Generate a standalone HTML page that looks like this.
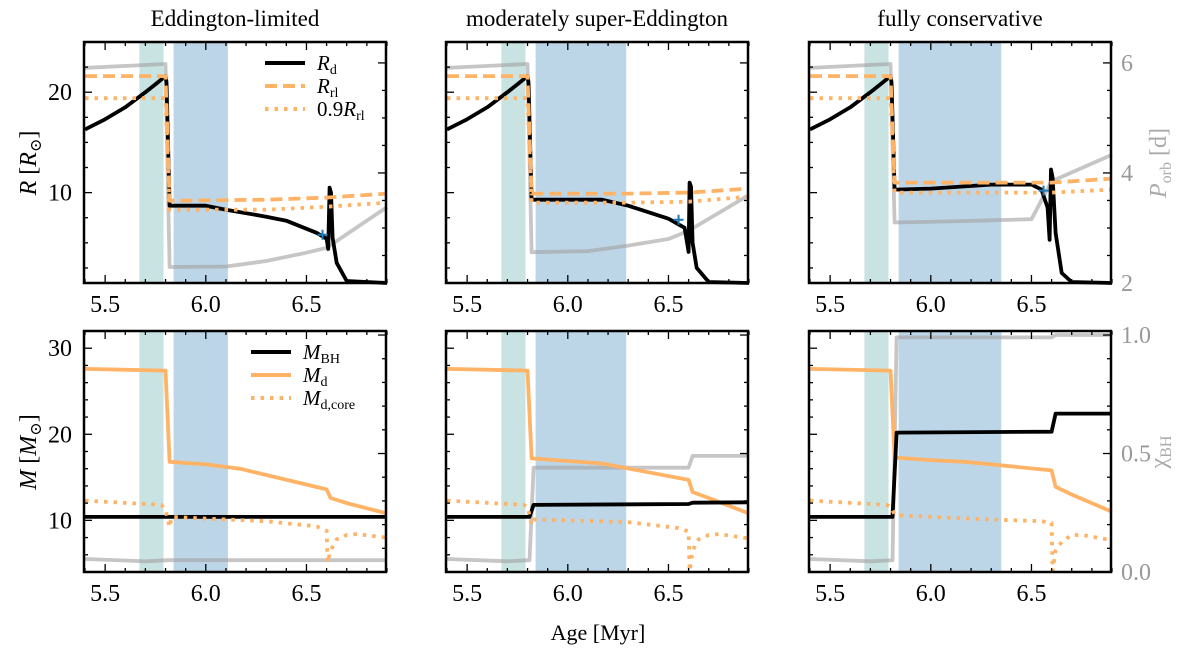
<!DOCTYPE html>
<html><head><meta charset="utf-8">
<style>
body{margin:0;background:#fff;}
svg{display:block;font-family:"Liberation Serif","DejaVu Serif",serif;}
</style></head>
<body>
<svg id="fig" width="1200" height="651" viewBox="0 0 1200 651"></svg>
<script>
// ---------- data ----------
const xTicks=[5.5,6.0,6.5];
const xTickLabels=["5.5","6.0","6.5"];
const titles=["Eddington-limited","moderately super-Eddington","fully conservative"];
const tealBand=[5.67,5.79];
const blueBandEnd=[6.11,6.29,6.35];
const blueBandStart=5.84;
// top row: R (Rsun), Porb (d)
const p1RdAge=[5.4,5.5,5.6,5.7,5.75,5.8,5.805,5.82,6.0,6.1,6.3,6.4,6.55,6.6,6.608,6.615,6.622,6.63,6.65,6.7,6.9];
const p1Rd=[16.3,17.3,18.5,20.0,20.8,21.6,21.0,8.7,8.7,8.3,7.6,7.2,6.0,5.4,4.4,10.5,10.0,5.5,3.0,1.2,1.0];
const p2RdAge=[5.4,5.5,5.6,5.7,5.75,5.8,5.805,5.82,6.17,6.3,6.5,6.58,6.6,6.605,6.612,6.62,6.64,6.7,6.9];
const p2Rd=[16.3,17.3,18.5,20.0,20.8,21.6,21.0,9.3,9.3,8.7,7.4,6.5,4.1,11.0,10.6,5.0,2.5,1.1,1.0];
const p3RdAge=[5.4,5.5,5.6,5.7,5.75,5.8,5.805,5.82,6.0,6.3,6.5,6.55,6.58,6.59,6.597,6.605,6.62,6.65,6.7,6.9];
const p3Rd=[16.3,17.3,18.5,20.0,20.8,21.6,21.0,10.3,10.4,10.8,10.8,10.3,8.5,5.3,12.3,11.5,6.0,2.0,1.1,1.0];
const rrlAge=[5.4,5.8,5.82,6.3,6.6,6.9];
const p1Rrl=[21.6,21.6,9.2,9.3,9.5,9.9];
const p2Rrl=[21.6,21.6,9.9,9.9,10.0,10.4];
const p3Rrl=[21.6,21.6,11.0,11.0,11.0,11.4];
const p1Rrl09=[19.4,19.4,8.3,8.3,8.6,9.0];
const p2Rrl09=[19.4,19.4,9.0,9.0,9.1,9.6];
const p3Rrl09=[19.4,19.4,10.0,10.0,10.0,10.3];
const porbAge=[5.4,5.8,5.82,6.1,6.3,6.5,6.6,6.9];
const p1Porb=[5.91,5.98,2.29,2.30,2.40,2.55,2.64,3.38];
const p2Porb=[5.91,5.98,2.56,2.58,2.68,2.80,2.95,3.60];
const p3Porb=[5.91,5.98,3.10,3.12,3.14,3.16,3.85,4.33];
const markerAge=[6.58,6.55,6.56];
const markerR=[5.8,7.3,10.2];
// bottom row: M (Msun), chi
const mdAge=[5.4,5.8,5.82,6.0,6.17,6.6,6.62,6.7,6.9];
const p1Md=[27.6,27.4,16.8,16.5,16.0,13.6,12.6,12.0,10.8];
const p2Md=[27.6,27.4,17.2,16.9,16.6,14.7,13.3,12.6,10.8];
const p3Md=[27.6,27.4,17.3,17.0,16.8,15.8,13.9,13.0,11.0];
const bhAge=[5.4,5.81,5.83,6.6,6.62,6.9];
const p1Bh=[10.4,10.4,10.4,10.4,10.4,10.4];
const p2Bh=[10.4,10.4,11.8,11.9,12.05,12.1];
const p3Bh=[10.4,10.4,20.2,20.3,22.4,22.4];
const coreAge=[5.4,5.78,5.8,5.82,5.83,6.0,6.3,6.55,6.6,6.605,6.62,6.65,6.7,6.75,6.9];
const p1Core=[12.3,11.8,11.2,9.2,10.4,10.2,9.9,9.3,8.8,5.1,6.5,7.8,8.3,8.4,8.0];
const p2Core=[12.3,11.8,11.6,9.5,10.1,10.0,9.8,9.1,8.7,4.1,6.5,7.8,8.3,8.4,7.9];
const p3Core=[12.3,11.8,11.6,10.7,10.6,10.4,10.1,9.9,9.7,4.1,6.5,7.5,8.3,8.3,7.7];
const chiAge=[5.4,5.7,5.81,5.83,6.6,6.62,6.9];
const p1Chi=[0.055,0.045,0.05,0.05,0.05,0.05,0.05];
const p2Chi=[0.055,0.045,0.05,0.44,0.44,0.49,0.49];
const p3Chi=[0.055,0.045,0.05,0.99,0.99,1.0,1.0];
// ---------- layout ----------
const NS="http://www.w3.org/2000/svg";
const svg=document.getElementById('fig');
const lefts=[84,446,809], W=302;
const topRow={y0:42,y1:283}, botRow={y0:331,y1:572};
const ORANGE="#ffb366", GRAY="rgba(160,160,160,0.6)";
const LW=3.8;
function el(tag,attrs,parent){const e=document.createElementNS(NS,tag);for(const k in attrs)e.setAttribute(k,attrs[k]);(parent||svg).appendChild(e);return e;}
function sx(i){return a=>lefts[i]+(a-5.4)/(6.9-5.4)*W+1;}
function scaleY(row,lo,hi){return v=>row.y1-(v-lo)/(hi-lo)*(row.y1-row.y0);}
function pathD(xs,ys,fx,fy){return xs.map((x,k)=>(k?'L':'M')+fx(x).toFixed(1)+' '+fy(ys[k]).toFixed(1)).join(' ');}
function line(g,xs,ys,fx,fy,stroke,dash,name,w){
  const p=el('path',{d:pathD(xs,ys,fx,fy),fill:'none',stroke:stroke,'stroke-width':w||LW,'stroke-linejoin':'round'},g);
  if(dash){p.setAttribute('stroke-dasharray',dash);}
  
  
  return p;
}
function txt(x,y,s,opts,name){
  const t=el('text',Object.assign({x:x,y:y,'font-size':24,'text-anchor':'middle'},opts||{}));
  t.innerHTML=s;
  
  
  return t;
}
const topData=[[p1Rd,p1Rrl,p1Rrl09,p1Porb,p1RdAge],[p2Rd,p2Rrl,p2Rrl09,p2Porb,p2RdAge],[p3Rd,p3Rrl,p3Rrl09,p3Porb,p3RdAge]];
const botData=[[p1Md,p1Bh,p1Core,p1Chi],[p2Md,p2Bh,p2Core,p2Chi],[p3Md,p3Bh,p3Core,p3Chi]];

function frame(g,i,row,fy,leftMajor,leftMinor,rightTicks,rightMinor){
  const fx=sx(i), x0=lefts[i], x1=x0+W;
  for(let a=5.4;a<=6.9001;a+=0.1){
    const major=xTicks.some(t=>Math.abs(t-a)<1e-6); const L=major?8:4;
    el('line',{x1:fx(a),x2:fx(a),y1:row.y1,y2:row.y1-L,stroke:'#000','stroke-width':1.3},g);
    el('line',{x1:fx(a),x2:fx(a),y1:row.y0,y2:row.y0+L,stroke:'#000','stroke-width':1.3},g);
  }
  leftMajor.forEach(v=>el('line',{x1:x0,x2:x0+8,y1:fy(v),y2:fy(v),stroke:'#000','stroke-width':1.3},g));
  leftMinor.forEach(v=>el('line',{x1:x0,x2:x0+4,y1:fy(v),y2:fy(v),stroke:'#000','stroke-width':1.3},g));
  rightTicks.forEach(y=>el('line',{x1:x1,x2:x1-8,y1:y,y2:y,stroke:'#000','stroke-width':1.3},g));
  rightMinor.forEach(y=>el('line',{x1:x1,x2:x1-4,y1:y,y2:y,stroke:'#000','stroke-width':1.3},g));
  const r=el('rect',{x:x0,y:row.y0,width:W,height:row.y1-row.y0,fill:'none',stroke:'#000','stroke-width':2.5},g);
  
  
  xTicks.forEach((t,k)=>txt(fx(t),row.y1+29,xTickLabels[k],{},'x-tick-label'));
}
function bands(g,i,row){
  const fx=sx(i);
  const a=el('rect',{x:fx(tealBand[0]),y:row.y0,width:fx(tealBand[1])-fx(tealBand[0]),height:row.y1-row.y0,fill:'#c8e3e2'},g);
  
  
  const b=el('rect',{x:fx(blueBandStart),y:row.y0,width:fx(blueBandEnd[i])-fx(blueBandStart),height:row.y1-row.y0,fill:'#bdd6e7'},g);
  
  
}

for(let i=0;i<3;i++){
  const g=el('g',{});  
  const fx=sx(i), fy=scaleY(topRow,1,25), fp=scaleY(topRow,2,6.38);
  bands(g,i,topRow);
  const [rd,rrl,rrl09,porb,rdAge]=topData[i];
  line(g,porbAge,porb,fx,fp,GRAY,null,'orbital-period-line');
  line(g,rdAge,rd,fx,fy,'#000',null,'donor-radius-line');
  line(g,rrlAge,rrl,fx,fy,ORANGE,'12 6','roche-lobe-radius-line');
  line(g,rrlAge,rrl09,fx,fy,ORANGE,'3.5 6','roche-lobe-90-line');
  const mx=fx(markerAge[i]), my=fy(markerR[i]);
  const m=el('path',{d:`M${mx-5} ${my}H${mx+5}M${mx} ${my-5}V${my+5}`,stroke:'#1f77b4','stroke-width':2},g);
   
  const minR=[],majR=[10,20]; for(let v=2.5;v<25;v+=2.5) if(v!==10&&v!==20) minR.push(v);
  const rt=[2,4,6].map(fp), rmn=[2.5,3,3.5,4.5,5,5.5].map(fp);
  frame(g,i,topRow,fy,majR,minR,rt,rmn);
  txt(lefts[i]+W/2,26,titles[i],{'font-size':23},'panel-title');
  const h=el('g',{});  
  const gy=scaleY(botRow,4,32), gc=scaleY(botRow,0,1.017);
  bands(h,i,botRow);
  const [md,bh,core,chi]=botData[i];
  line(h,chiAge,chi,fx,gc,GRAY,null,'bh-spin-line');
  line(h,mdAge,md,fx,gy,ORANGE,null,'donor-mass-line');
  line(h,bhAge,bh,fx,gy,'#000',null,'bh-mass-line');
  line(h,coreAge,core,fx,gy,ORANGE,'3.5 6','donor-core-mass-line');
  const minM=[]; for(let v=6;v<32;v+=2) if(v%10) minM.push(v);
  const ct=[0,0.5,1].map(gc), cmn=[0.1,0.2,0.3,0.4,0.6,0.7,0.8,0.9].map(gc);
  frame(h,i,botRow,gy,[10,20,30],minM,ct,cmn);
}
const fyR=scaleY(topRow,1,25), fyM=scaleY(botRow,4,32);
[10,20].forEach(v=>txt(72,fyR(v)+8,String(v),{'text-anchor':'end'},'y-tick-label'));
[10,20,30].forEach(v=>txt(72,fyM(v)+8,String(v),{'text-anchor':'end'},'y-tick-label'));
const fp=scaleY(topRow,2,6.38), gc=scaleY(botRow,0,1.017);
[2,4,6].forEach(v=>txt(1121,fp(v)+8,String(v),{'text-anchor':'start',fill:'#999'},'right-tick-label'));
[0,0.5,1].forEach(v=>txt(1121,gc(v)+8,v.toFixed(1),{'text-anchor':'start',fill:'#999'},'right-tick-label'));
txt(0,0,'<tspan font-style="italic">R</tspan> [<tspan font-style="italic">R</tspan><tspan font-size="16" dy="5">⊙</tspan><tspan dy="-5">]</tspan>',{transform:'translate(36,163) rotate(-90)'},'y-axis-title-radius');
txt(0,0,'<tspan font-style="italic">M</tspan> [<tspan font-style="italic">M</tspan><tspan font-size="16" dy="5">⊙</tspan><tspan dy="-5">]</tspan>',{transform:'translate(36,452) rotate(-90)'},'y-axis-title-mass');
txt(0,0,'<tspan font-style="italic">P</tspan><tspan font-size="16" dy="5">orb</tspan><tspan dy="-5"> [d]</tspan>',{transform:'translate(1166,163) rotate(-90)',fill:'#aaa'},'y-axis-title-period');
txt(0,0,'χ<tspan font-size="16" dy="5">BH</tspan>',{transform:'translate(1166,452) rotate(-90)',fill:'#aaa'},'y-axis-title-spin');
txt(598,640,'Age [Myr]',{'font-size':22},'x-axis-title');
function legend(items,lx,ly,name){
  const g=el('g',{});  
  items.forEach((it,k)=>{
    const y=ly+k*23;
    const l=el('line',{x1:lx,x2:lx+40,y1:y,y2:y,stroke:it[0],'stroke-width':4},g);
    if(it[1]) l.setAttribute('stroke-dasharray',it[1]);
     
    const t=el('text',{x:lx+52,y:y+7,'font-size':21},g); t.innerHTML=it[2];
     
  });
}
legend([['#000',null,'<tspan font-style="italic">R</tspan><tspan font-size="14" dy="4">d</tspan>'],
        [ORANGE,'12 6','<tspan font-style="italic">R</tspan><tspan font-size="14" dy="4">rl</tspan>'],
        [ORANGE,'3.5 6','0.9<tspan font-style="italic">R</tspan><tspan font-size="14" dy="4">rl</tspan>']],265,63,'legend-radius');
legend([['#000',null,'<tspan font-style="italic">M</tspan><tspan font-size="14" dy="4">BH</tspan>'],
        [ORANGE,null,'<tspan font-style="italic">M</tspan><tspan font-size="14" dy="4">d</tspan>'],
        [ORANGE,'3.5 6','<tspan font-style="italic">M</tspan><tspan font-size="14" dy="4">d,core</tspan>']],251,352,'legend-mass');
</script>
</body></html>
